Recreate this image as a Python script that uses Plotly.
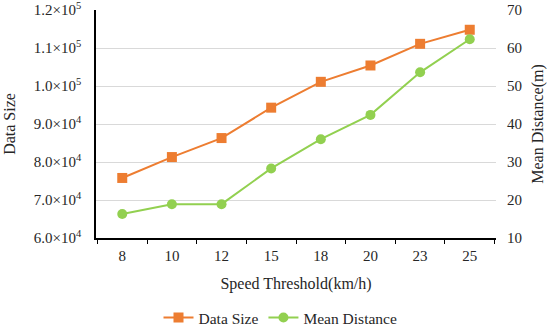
import plotly.graph_objects as go

categories = ["8", "10", "12", "15", "18", "20", "23", "25"]
data_size = [75800, 81300, 86300, 94300, 101100, 105400, 111100, 114800]
mean_distance = [16.3, 18.9, 18.9, 28.3, 36.0, 42.4, 53.6, 62.3]

left_ticks = [60000, 70000, 80000, 90000, 100000, 110000, 120000]
left_ticktext = ["6.0×10<sup>4</sup>", "7.0×10<sup>4</sup>", "8.0×10<sup>4</sup>", "9.0×10<sup>4</sup>",
                 "1.0×10<sup>5</sup>", "1.1×10<sup>5</sup>", "1.2×10<sup>5</sup>"]
right_ticks = [10, 20, 30, 40, 50, 60, 70]

font = "Liberation Serif, Times New Roman, serif"
txt = "#262626"

fig = go.Figure()
fig.add_trace(go.Scatter(x=categories, y=data_size, name="Data Size", mode="lines+markers",
                         line=dict(color="#ED7D31", width=2),
                         marker=dict(symbol="square", size=10, color="#ED7D31")))
fig.add_trace(go.Scatter(x=categories, y=mean_distance, name="Mean Distance", mode="lines+markers",
                         yaxis="y2",
                         line=dict(color="#92D050", width=2),
                         marker=dict(symbol="circle", size=10, color="#92D050")))

fig.update_layout(
    width=550, height=328,
    margin=dict(l=96, r=54, t=10, b=90, autoexpand=False),
    paper_bgcolor="white", plot_bgcolor="white",
    font=dict(family=font, size=15, color=txt),
    showlegend=True,
    legend=dict(orientation="h", x=0.51, xanchor="center", xref="container",
                y=10 / 328, yanchor="middle", yref="container",
                font=dict(family=font, size=15.5, color=txt)),
    xaxis=dict(type="category", showline=True, linecolor="black", linewidth=1.5,
               ticks="outside", tickson="boundaries", ticklen=4,
               tickcolor="black", tickwidth=1,
               showgrid=False, tickfont=dict(size=15), automargin=False,
               ticklabelstandoff=3, ticklabeloverflow="allow",
               title=dict(text="Speed Threshold(km/h)", font=dict(size=16), standoff=15)),
    yaxis=dict(range=[60000, 120000], tickvals=left_ticks, ticktext=left_ticktext,
               showline=True, linecolor="black", linewidth=1.5, ticks="",
               showgrid=True, gridcolor="#d9d9d9", gridwidth=1, zeroline=False,
               tickfont=dict(size=15), automargin=False, ticklabelstandoff=10,
               ticklabeloverflow="allow",
               title=dict(text="Data Size", font=dict(size=16), standoff=14)),
    yaxis2=dict(range=[10, 70], tickvals=right_ticks, overlaying="y", side="right",
                showline=False, showgrid=False, zeroline=False, ticks="",
                tickfont=dict(size=15), automargin=False, ticklabelstandoff=10,
                ticklabeloverflow="allow",
                title=dict(text="Mean Distance(m)", font=dict(size=16), standoff=10)),
)

fig.write_html("out.html", config={"displayModeBar": False},
               post_script="document.body.style.margin='0';")
